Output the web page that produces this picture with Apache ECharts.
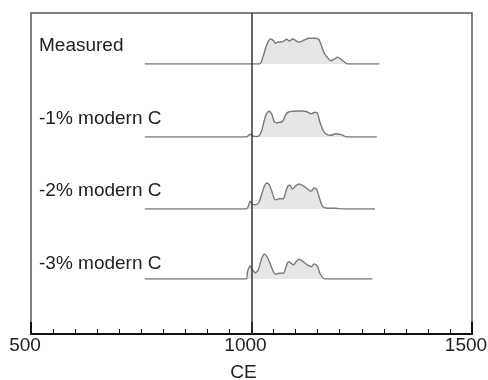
<!DOCTYPE html>
<html><head><meta charset="utf-8">
<script src="https://cdn.jsdelivr.net/npm/echarts@6/dist/echarts.min.js"></script>
<style>html,body{margin:0;padding:0;background:#fff}#c{width:488px;height:380px}</style>
</head><body><div id="c"></div>
<script>
// Calendar years (CE) and relative probability heights for each calibration
const rowLabels = ['Measured', '-1% modern C', '-2% modern C', '-3% modern C'];
const measured = [[758,0],[1018,0],[1025,5.7],[1033,17.3],[1039,23.3],[1044,25],[1050,23.3],[1054,20.7],[1059,21.7],[1071,22.3],[1080,24.7],[1086,23],[1093,25],[1101,23.3],[1108,21.7],[1120,24],[1131,25.7],[1142,25.7],[1152,25],[1158,19],[1165,10.7],[1172,6.7],[1180,3.3],[1188,5],[1195,6.7],[1203,4.7],[1210,2.3],[1218,0],[1290,0]];
const minus1 = [[758,0],[988,0],[997,2.7],[1004,0.7],[1014,0.5],[1022,5],[1029,16.7],[1034,23.3],[1040,25.7],[1046,22.7],[1052,15],[1057,14.3],[1067,15],[1072,16.7],[1078,22.7],[1084,25],[1093,25.7],[1105,26],[1116,26],[1127,25],[1135,23.3],[1145,24.7],[1150,23.3],[1155,15],[1163,6],[1170,2.7],[1180,1.7],[1191,3.3],[1203,2.3],[1214,0.3],[1222,0],[1284,0]];
const minus2 = [[758,0],[988,0],[997,7.7],[1001,5],[1009,4.3],[1016,6],[1024,16],[1029,22.7],[1034,26],[1040,24.3],[1046,17.7],[1052,10],[1057,9.3],[1063,10.3],[1072,10.3],[1077,16],[1082,22.7],[1087,23.7],[1093,20],[1099,22.7],[1108,25],[1117,23.3],[1127,20],[1135,17.7],[1142,21],[1148,19.3],[1154,11],[1161,2.7],[1169,1],[1191,0.7],[1210,0],[1280,0]];
const minus3 = [[758,0],[988,0],[991,7.3],[997,13.3],[1001,9.7],[1009,6.3],[1016,9.7],[1022,19],[1029,25],[1035,22.3],[1042,15.7],[1048,9],[1054,4.7],[1063,5.7],[1072,5.7],[1078,11.7],[1084,17.3],[1090,15.7],[1095,14],[1101,17.3],[1108,19.7],[1117,17.3],[1127,14],[1135,12.3],[1142,15],[1150,12.3],[1155,5.7],[1163,0.7],[1169,0],[1274,0]];
const seriesData = [measured, minus1, minus2, minus3];
const xTicks = [500, 1000, 1500];
const refYear = 1000;

const baselines = [64, 137, 209, 279];
const labelY = [47, 120, 192.5, 265];
const FONT = '"Liberation Sans", Arial, Helvetica, sans-serif';

const grids = [{left:31, right:16, top:13, bottom:46, show:true, borderColor:'#555', borderWidth:1.5, z:0, outerBoundsMode:'none', containLabel:false}];
const xAxes = [{
  type:'value', gridIndex:0, min:xTicks[0], max:xTicks[xTicks.length-1], interval:500,
  name:'CE', nameLocation:'middle', nameGap:29,
  nameTextStyle:{fontFamily:FONT, fontSize:19, color:'#222', padding:[0,16,0,0]},
  axisLine:{lineStyle:{color:'#111', width:2}},
  axisTick:{inside:true, length:12, lineStyle:{color:'#111', width:2}},
  minorTick:{show:true, splitNumber:10, length:5, lineStyle:{color:'#111', width:1}},
  axisLabel:{fontFamily:FONT, fontSize:19, color:'#222', margin:2, padding:[0,12,0,0], showMinLabel:true, showMaxLabel:true,
    formatter:(v)=>String(v)},
  splitLine:{show:false}, minorSplitLine:{show:false}
}];
const yAxes = [{type:'value', gridIndex:0, min:0, max:1, show:false}];
const series = [{
  type:'line', xAxisIndex:0, yAxisIndex:0, data:[], silent:true,
  markLine:{symbol:'none', silent:true, label:{show:false}, animation:false,
    lineStyle:{color:'#333', width:1.5, type:'solid'}, data:[{xAxis:refYear}]},
  z:10
}];
seriesData.forEach((d,i)=>{
  const gi = i+1;
  grids.push({left:31, right:16, top:baselines[i]-40, height:40, outerBoundsMode:'none', containLabel:false});
  xAxes.push({type:'value', gridIndex:gi, min:500, max:1500, show:false});
  yAxes.push({type:'value', gridIndex:gi, min:0, max:40, show:false});
  series.push({
    type:'line', xAxisIndex:gi, yAxisIndex:gi, data:d, showSymbol:false, smooth:0.3,
    lineStyle:{color:'#7a7a7a', width:1.4},
    areaStyle:{color:'#e6e6e6', opacity:1, origin:'start'},
    silent:true, z:3
  });
});

const graphic = rowLabels.map((t,i)=>({
  type:'text', left:39, top:labelY[i]-11, z:20,
  style:{text:t, font:'19px '+FONT, fill:'#222'}
}));

const chart = echarts.init(document.getElementById('c'), null, {renderer:'canvas'});
chart.setOption({animation:false, grid:grids, xAxis:xAxes, yAxis:yAxes, series:series, graphic:graphic});
</script></body></html>
